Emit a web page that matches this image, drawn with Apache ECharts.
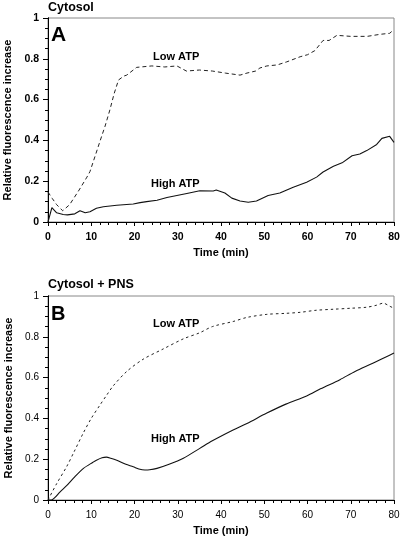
<!DOCTYPE html>
<html><head><meta charset="utf-8">
<script src="https://cdn.jsdelivr.net/npm/echarts@6/dist/echarts.min.js"></script>
<style>html,body{margin:0;padding:0;background:#fff}#c{width:400px;height:541px}</style>
</head><body><div id="c"></div>
<script>
// Panel A (Cytosol)
const aLowT = [0,1,2,3.4,5,7.2,9,9.7,11,12.4,13.2,14.3,15.3,16.3,17.5,18.2,20.5,24,27,29.8,32,35,38,41,44.4,46,48,49,50.6,53,55.2,58.3,60,61.7,63.6,65,66.8,70,73.8,76.8,79,79.8];
const aLowV = [0.147,0.115,0.085,0.055,0.085,0.157,0.22,0.247,0.33,0.42,0.47,0.549,0.63,0.696,0.715,0.72,0.758,0.765,0.76,0.765,0.74,0.745,0.74,0.73,0.72,0.73,0.74,0.755,0.765,0.77,0.785,0.81,0.82,0.84,0.89,0.89,0.915,0.91,0.91,0.92,0.925,0.94];
const aHighT = [0,0.9,2,3.5,4.5,6.2,7.4,8.6,9.7,11.2,12.8,15.9,19.7,21.3,22.8,25.2,27.5,29.8,32.1,35.1,38.2,38.9,40.9,42.5,44.4,46.3,48.2,50.9,53.6,56.7,59.8,62.1,63.6,66,68,70.3,72.1,73.7,76,77.2,79,80];
const aHighV = [0,0.07,0.045,0.037,0.035,0.04,0.055,0.045,0.05,0.067,0.075,0.082,0.088,0.095,0.1,0.107,0.12,0.13,0.14,0.153,0.152,0.157,0.142,0.117,0.103,0.097,0.103,0.13,0.142,0.17,0.195,0.22,0.245,0.273,0.29,0.325,0.333,0.35,0.38,0.41,0.42,0.39];
// Panel B (Cytosol + PNS)
const bLowT = [0,2,4.3,6,8.2,10,12,13.6,15.1,18.2,22,26.6,31.3,35.1,38,42.8,46,50.6,55,58.3,62,65.9,70,73.7,76,77.5,79,80];
const bLowV = [0,0.08,0.163,0.235,0.33,0.40,0.465,0.515,0.56,0.63,0.69,0.74,0.79,0.82,0.85,0.875,0.895,0.91,0.915,0.92,0.93,0.935,0.94,0.945,0.955,0.965,0.95,0.94];
const bHighT = [0,0.8,1.5,2.8,4.3,5.9,8.2,10.4,11.2,12.5,13.5,14.5,15.9,18,19.7,21,22.4,23.5,25.2,28,31.3,35.1,38,42.8,46,50.6,55,59.8,63,67.5,71,75.1,78,80];
const bHighV = [0,0,0.01,0.04,0.07,0.107,0.155,0.185,0.195,0.207,0.21,0.205,0.195,0.175,0.163,0.152,0.147,0.148,0.155,0.175,0.205,0.253,0.29,0.343,0.375,0.426,0.47,0.51,0.545,0.59,0.63,0.67,0.7,0.72];
const xTicks = [0,10,20,30,40,50,60,70,80];
const yTicks = [0,0.2,0.4,0.6,0.8,1];
const titles = ['Cytosol','Cytosol + PNS'];
const letters = ['A','B'];
const seriesLabels = ['Low ATP','High ATP'];
const xName = 'Time (min)';
const yName = 'Relative fluorescence increase';

const zip = (t, v) => t.map((x, i) => [x, v[i]]);
const FF = '"Liberation Sans", Arial, sans-serif';
const chart = echarts.init(document.getElementById('c'), null, {renderer: 'canvas'});

function xAx(gi, bold) {
  return {
    type: 'value', gridIndex: gi, min: xTicks[0], max: xTicks[xTicks.length-1], interval: 10,
    name: xName, nameLocation: 'middle', nameGap: 25,
    nameTextStyle: {fontFamily: FF, fontWeight: 'bold', fontSize: 11, color: '#000'},
    axisLine: {onZero: false, lineStyle: {color: '#000', width: 1}},
    axisTick: {length: 4, lineStyle: {color: '#000'}},
    minorTick: {show: true, splitNumber: 5, length: 3, lineStyle: {color: '#000'}},
    axisLabel: {margin: 10, fontFamily: FF, fontWeight: bold ? 'bold' : 'normal', fontSize: bold ? 10.5 : 10, color: '#000',
      formatter: v => xTicks.includes(v) ? String(v) : ''},
    splitLine: {show: false}
  };
}
function yAx(gi, bold) {
  return {
    type: 'value', gridIndex: gi, min: 0, max: 1, interval: 0.2,
    name: yName, nameLocation: 'middle', nameGap: 34, nameRotate: 90,
    nameTextStyle: {fontFamily: FF, fontWeight: 'bold', fontSize: 11, color: '#000'},
    axisLine: {onZero: false, lineStyle: {color: '#000', width: 1}},
    axisTick: {length: 5, lineStyle: {color: '#000'}},
    minorTick: {show: true, splitNumber: 4, length: 3, lineStyle: {color: '#000'}},
    axisLabel: {margin: 9, fontFamily: FF, fontWeight: bold ? 'bold' : 'normal', fontSize: bold ? 10.5 : 10, color: '#000',
      formatter: v => { const t = yTicks.find(y => Math.abs(y - v) < 1e-9); return t === undefined ? '' : String(+t.toFixed(1)); }},
    splitLine: {show: false}
  };
}
function rightAx(gi) {
  return {type: 'value', gridIndex: gi, position: 'right', min: 0, max: 1,
    axisLine: {show: true, lineStyle: {color: '#000'}}, axisTick: {show: false}, axisLabel: {show: false}, splitLine: {show: false}};
}
const lineCommon = {type: 'line', showSymbol: false, symbol: 'none', animation: false};

const txt = (left, top, text, size, weight) => ({type: 'text', left, top,
  style: {text, fill: '#000', font: `${weight} ${size}px ${FF}`}});

chart.setOption({
  backgroundColor: '#fff',
  animation: false,
  grid: [
    {left: 48, top: 18, width: 346, height: 204, show: true, borderColor: '#888', borderWidth: 1, containLabel: false, outerBoundsMode: 'none'},
    {left: 48, top: 296, width: 346, height: 204, show: true, borderColor: '#888', borderWidth: 1, containLabel: false, outerBoundsMode: 'none'}
  ],
  xAxis: [xAx(0, true), xAx(1, false)],
  yAxis: [yAx(0, true), yAx(1, false), rightAx(0), rightAx(1)],
  series: [
    Object.assign({}, lineCommon, {xAxisIndex: 0, yAxisIndex: 0, data: zip(aLowT, aLowV),
      lineStyle: {color: '#222', width: 1, type: [4, 3]}}),
    Object.assign({}, lineCommon, {xAxisIndex: 0, yAxisIndex: 0, data: zip(aHighT, aHighV),
      lineStyle: {color: '#111', width: 1.1}}),
    Object.assign({}, lineCommon, {xAxisIndex: 1, yAxisIndex: 1, smooth: 0.3, data: zip(bLowT, bLowV),
      lineStyle: {color: '#222', width: 1, type: [2.5, 3]}}),
    Object.assign({}, lineCommon, {xAxisIndex: 1, yAxisIndex: 1, smooth: 0.3, data: zip(bHighT, bHighV),
      lineStyle: {color: '#111', width: 1.1}})
  ],
  graphic: [
    txt(48, 1, titles[0], 12.5, 'bold'),
    txt(48, 278, titles[1], 12.5, 'bold'),
    txt(51, 25, letters[0], 21, 'bold'),
    txt(51, 304, letters[1], 20, 'bold'),
    txt(153, 51, seriesLabels[0], 11, 'bold'),
    txt(151, 178, seriesLabels[1], 11, 'bold'),
    txt(153, 318, seriesLabels[0], 11, 'bold'),
    txt(151, 433, seriesLabels[1], 11, 'bold')
  ]
});
</script></body></html>
